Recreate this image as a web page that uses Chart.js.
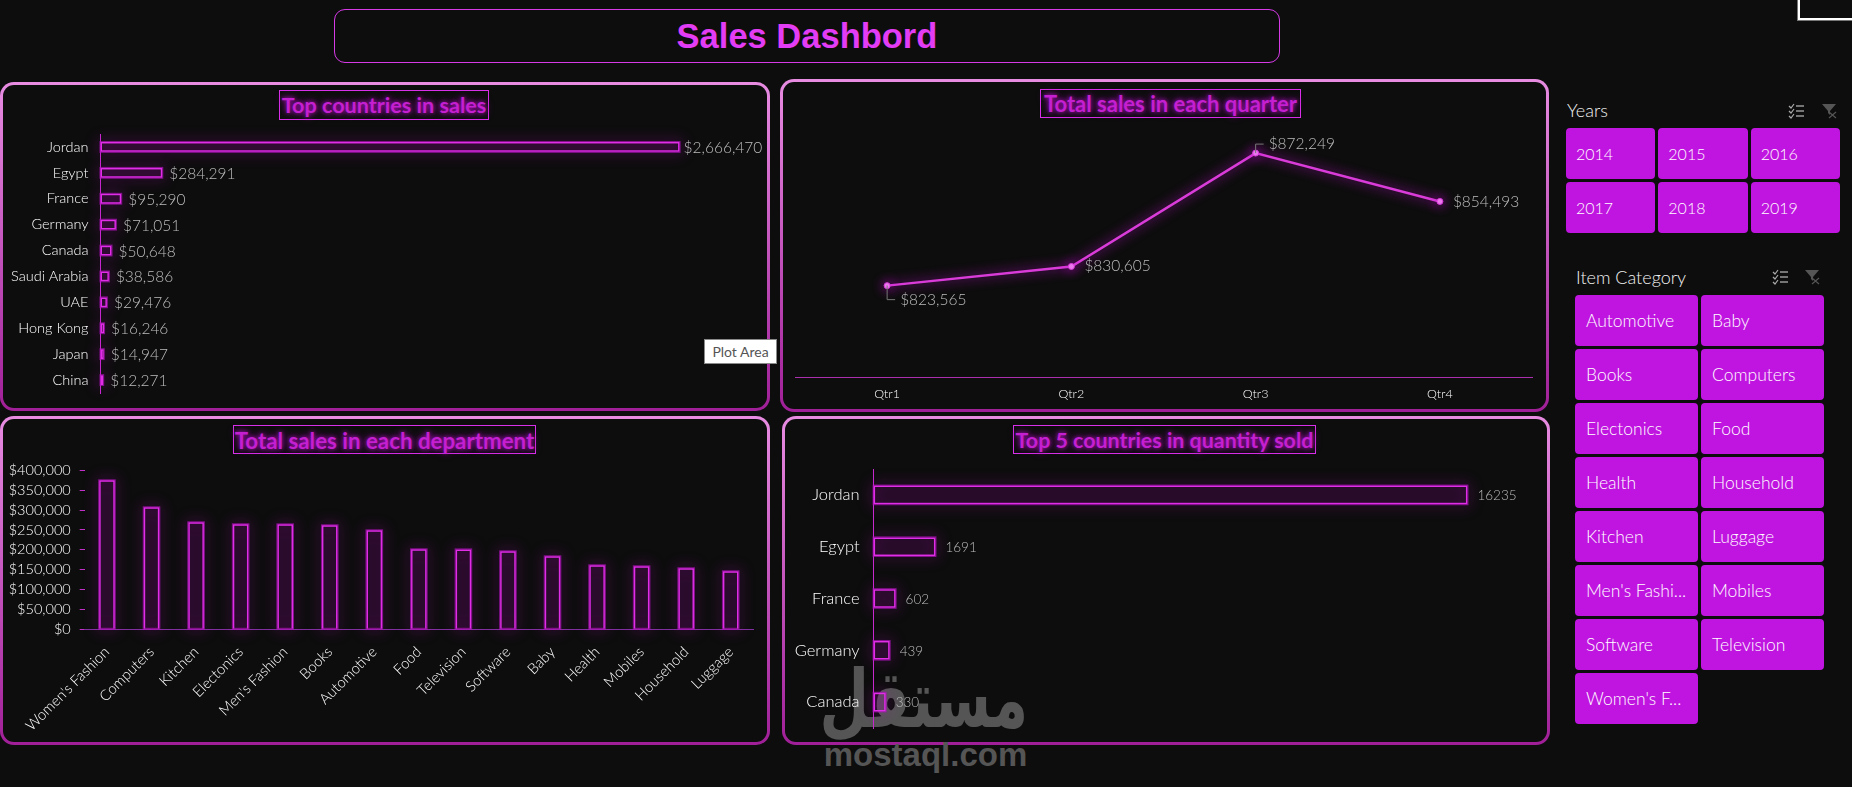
<!DOCTYPE html>
<html>
<head>
<meta charset="utf-8">
<title>Sales Dashbord</title>
<script src="https://cdn.jsdelivr.net/npm/chart.js@4.4.3/dist/chart.umd.min.js"></script>
<style>
    html, body { margin: 0; padding: 0; background: #0d0d0d; overflow: hidden; }
    #page { position: relative; width: 1852px; height: 787px; background: #0d0d0d; font-family: Lato, sans-serif; font-weight: 300; }
    #page > * { position: absolute; box-sizing: border-box; }
    canvas { display: block; z-index: 2; }
    #header { left: 334px; top: 9px; width: 946px; height: 54px; border: 1px solid #d63ae6; border-radius: 11px;
        color: #e23cf4; font: bold 34.5px "Liberation Sans", sans-serif; text-align: center; line-height: 52px; }
    .panel { border: 3px solid transparent; border-radius: 14px;
        background: linear-gradient(#0d0d0d, #0d0d0d) padding-box, linear-gradient(#e88ce2, #a01f98) border-box; }
    .chart-title { border: 1px solid #d930ea; color: #c41fd0; font: 700 22px Lato, sans-serif; text-align: center;
        text-shadow: 0 0 4px #a010b0, 0 0 8px #900aa0; white-space: nowrap; }
    .slicer-label { color: #f2f2f2; font-size: 18px; line-height: 20px; }
    .slicer { display: grid; gap: 3px; grid-auto-rows: 51px; }
    .slicer div { background: #c015e0; border-radius: 4px; color: #fff; line-height: 51px; white-space: nowrap; overflow: hidden; }
    #tip { left: 704px; top: 339px; width: 73px; height: 25px; background: #fff; border: 1px solid #8a8a8a; color: #555;
        font-size: 14px; font-weight: 400; text-align: center; line-height: 23px; z-index: 5; }
    #corner { left: 1798px; top: -3px; width: 60px; height: 23px; border: 2px solid #fff; outline: 1px solid #777; }
    #stamp-ar { left: 823px; top: 654px; width: 205px; color: #555; font: bold 57px "DejaVu Sans", sans-serif; text-align: center; line-height: 90px; z-index: 1; direction: rtl; transform: scaleY(1.4); }
    #stamp-en { left: 810px; top: 739px; width: 231px; color: #555; font: bold 33px "Liberation Sans", sans-serif; text-align: center; line-height: 32px; z-index: 1; }
</style>
</head>
<body>
<div id="page">
    <div id="header">Sales Dashbord</div>

    <div class="panel" style="left:0;top:82px;width:770px;height:329px"></div>
    <div class="panel" style="left:780px;top:79px;width:769px;height:333px"></div>
    <div class="panel" style="left:0;top:416px;width:770px;height:329px"></div>
    <div class="panel" style="left:782px;top:416px;width:768px;height:329px"></div>

    <div class="chart-title" style="left:279px;top:90px;width:210px;height:30px;line-height:29px;font-size:21.6px">Top countries in sales</div>
    <div class="chart-title" style="left:1040px;top:89px;width:261px;height:29px;line-height:28px">Total sales in each quarter</div>
    <div class="chart-title" style="left:233px;top:425px;width:303px;height:29px;line-height:29px;font-size:22.3px">Total sales in each department</div>
    <div class="chart-title" style="left:1013px;top:425px;width:303px;height:29px;line-height:29px;font-size:21.4px">Top 5 countries in quantity sold</div>

    <canvas id="countrySales" width="761" height="285" style="left:4px;top:120px"></canvas>
    <canvas id="quarterSales" width="755" height="280" style="left:785px;top:125px"></canvas>
    <canvas id="departmentSales" width="761" height="285" style="left:4px;top:455px"></canvas>
    <canvas id="countryQuantity" width="755" height="280" style="left:785px;top:460px"></canvas>

    <div class="slicer-label" style="left:1567px;top:100px">Years</div>
    <svg style="left:1788px;top:103px" width="50" height="16" viewBox="0 0 50 16" fill="none">
        <path d="M1 3l2 2 3-4M1 8l2 2 3-4M1 13l2 2 3-4" stroke="#aaa" stroke-width="1.2"/>
        <path d="M8 3h8M8 8h8M8 13h8" stroke="#ddd"/>
        <path d="M34 1h14l-6 7v4l-2-2V8z" fill="#555"/>
        <path d="M41 9l7 6M48 9l-7 6" stroke="#555" stroke-width="1.2"/>
    </svg>
    <div class="slicer" id="yearSlicer" style="left:1566px;top:128px;width:274px;grid-template-columns:repeat(3,1fr);font-size:16px"></div>

    <div class="slicer-label" style="left:1576px;top:267px">Item Category</div>
    <svg style="left:1772px;top:269px" width="50" height="16" viewBox="0 0 50 16" fill="none">
        <path d="M1 3l2 2 3-4M1 8l2 2 3-4M1 13l2 2 3-4" stroke="#aaa" stroke-width="1.2"/>
        <path d="M8 3h8M8 8h8M8 13h8" stroke="#ddd"/>
        <path d="M33 1h14l-6 7v4l-2-2V8z" fill="#555"/>
        <path d="M40 9l7 6M47 9l-7 6" stroke="#555" stroke-width="1.2"/>
    </svg>
    <div class="slicer" id="categorySlicer" style="left:1575px;top:295px;width:249px;grid-template-columns:repeat(2,1fr);font-size:17.5px"></div>

    <div id="tip">Plot Area</div>
    <div id="corner"></div>
    <div id="stamp-ar">مستقل</div>
    <div id="stamp-en">mostaql.com</div>
</div>

<script>
const salesCountries = ['Jordan', 'Egypt', 'France', 'Germany', 'Canada', 'Saudi Arabia', 'UAE', 'Hong Kong', 'Japan', 'China'];
const salesByCountry = [2666470, 284291, 95290, 71051, 50648, 38586, 29476, 16246, 14947, 12271];

const quarters = ['Qtr1', 'Qtr2', 'Qtr3', 'Qtr4'];
const salesByQuarter = [823565, 830605, 872249, 854493];

const departments = ["Women's Fashion", 'Computers', 'Kitchen', 'Electonics', "Men's Fashion", 'Books', 'Automotive', 'Food', 'Television', 'Software', 'Baby', 'Health', 'Mobiles', 'Household', 'Luggage'];
const salesByDepartment = [374800, 306900, 269200, 264200, 264000, 261600, 249000, 201300, 201000, 196200, 183600, 161000, 158500, 153500, 145900];

const quantityCountries = ['Jordan', 'Egypt', 'France', 'Germany', 'Canada'];
const quantityByCountry = [16235, 1691, 602, 439, 330];

const years = ['2014', '2015', '2016', '2017', '2018', '2019'];
const itemCategories = ['Automotive', 'Baby', 'Books', 'Computers', 'Electonics', 'Food', 'Health', 'Household', 'Kitchen', 'Luggage', "Men's Fashi...", 'Mobiles', 'Software', 'Television', "Women's F..."];

const MAGENTA = '#e02ee6';

function fillSlicer(id, items, pad) {
    const box = document.getElementById(id);
    items.forEach(item => {
        const cell = document.createElement('div');
        cell.textContent = item;
        cell.style.paddingLeft = pad + 'px';
        box.appendChild(cell);
    });
}
fillSlicer('yearSlicer', years, 10);
fillSlicer('categorySlicer', itemCategories, 11);

// axes keep the sizes given here, without the extra room Chart.js leaves for end labels
function fixAxis(scale, size) {
    if (scale.isHorizontal()) {
        scale.height = size;
    } else {
        scale.width = size;
    }
    scale.paddingTop = scale.paddingBottom = scale.paddingLeft = scale.paddingRight = 0;
}

// neon halo behind bars; drawn here because the bar element clips its own shadow
const barGlow = {
    id: 'barGlow',
    beforeDatasetDraw(chart, args) {
        const ctx = chart.ctx;
        ctx.save();
        ctx.strokeStyle = 'rgba(180, 20, 190, 0.7)';
        ctx.lineWidth = 2;
        ctx.shadowColor = '#c012d0';
        ctx.shadowBlur = 14;
        args.meta.data.forEach(bar => {
            const p = bar.getProps(['x', 'y', 'base', 'width', 'height'], true);
            if (chart.options.indexAxis === 'y') {
                ctx.strokeRect(p.base, p.y - p.height / 2, p.x - p.base, p.height);
            } else {
                ctx.strokeRect(p.x - p.width / 2, p.y, p.width, p.base - p.y);
            }
        });
        ctx.restore();
    }
};

const lineGlow = {
    id: 'lineGlow',
    beforeDatasetDraw(chart) {
        chart.ctx.save();
        chart.ctx.shadowColor = '#c010d0';
        chart.ctx.shadowBlur = 12;
    },
    afterDatasetDraw(chart) {
        chart.ctx.restore();
    }
};

// value labels placed next to each mark, offsets come from options.plugins.valueLabels
const valueLabels = {
    id: 'valueLabels',
    afterDatasetsDraw(chart, args, opts) {
        const ctx = chart.ctx;
        const values = chart.data.datasets[0].data;
        ctx.save();
        ctx.font = opts.font;
        ctx.fillStyle = '#bdbdbd';
        ctx.textBaseline = 'middle';
        chart.getDatasetMeta(0).data.forEach((el, i) => {
            const off = opts.offsets && opts.offsets[i] ? opts.offsets[i] : [opts.dx, opts.dy];
            if (opts.leaders && opts.leaders[i]) {
                ctx.strokeStyle = '#777';
                ctx.lineWidth = 1;
                ctx.beginPath();
                ctx.moveTo(el.x, el.y);
                ctx.lineTo(el.x, el.y + off[1]);
                ctx.lineTo(el.x + off[0] - 5, el.y + off[1]);
                ctx.stroke();
            }
            ctx.fillText(opts.format(values[i]), el.x + off[0], el.y + off[1]);
        });
        ctx.restore();
    }
};

const dollars = v => '$' + v.toLocaleString('en-US');

function horizontalBars(id, labels, values, max, opts) {
    return new Chart(document.getElementById(id), {
        type: 'bar',
        data: {
            labels: labels,
            datasets: [{
                data: values,
                backgroundColor: 'rgba(120, 10, 130, 0.15)',
                borderColor: MAGENTA,
                borderWidth: 1.5,
                borderSkipped: false,
                barPercentage: 1,
                categoryPercentage: opts.thickness
            }]
        },
        options: {
            indexAxis: 'y',
            responsive: false,
            animation: false,
            layout: { padding: opts.padding },
            plugins: {
                legend: { display: false },
                tooltip: { enabled: false },
                valueLabels: { font: opts.labelFont, dx: opts.labelGap, dy: 1, format: opts.format, offsets: opts.labelOffsets }
            },
            scales: {
                x: { display: false, min: 0, max: max },
                y: {
                    afterFit: s => fixAxis(s, opts.axisWidth),
                    grid: { display: false, drawTicks: false },
                    border: { display: true, color: '#c828d0', width: 1 },
                    ticks: { color: '#ffffff', font: { family: 'Lato', weight: 300, size: opts.tickSize }, padding: opts.tickPad }
                }
            }
        },
        plugins: [barGlow, valueLabels]
    });
}

horizontalBars('countrySales', salesCountries, salesByCountry, 3000000, {
    axisWidth: 96.5,
    padding: { top: 14, bottom: 12, right: 13, left: 0 },
    thickness: 0.38,
    labelFont: '300 15.5px Lato',
    labelGap: 7,
    labelOffsets: [[4, 1]],
    format: dollars,
    tickSize: 14.5,
    tickPad: 12
});

horizontalBars('countryQuantity', quantityCountries, quantityByCountry, 18000, {
    axisWidth: 88.6,
    padding: { top: 9, bottom: 12, right: 8, left: 0 },
    thickness: 0.36,
    labelFont: '300 13.5px Lato',
    labelGap: 10,
    format: v => String(v),
    tickSize: 16.5,
    tickPad: 14
});

new Chart(document.getElementById('quarterSales'), {
    type: 'line',
    data: {
        labels: quarters,
        datasets: [{
            data: salesByQuarter,
            borderColor: '#d93cd8',
            borderWidth: 2.5,
            tension: 0,
            pointRadius: 3,
            pointBackgroundColor: '#ee80ee',
            pointBorderColor: '#d836dc',
            pointBorderWidth: 1
        }]
    },
    options: {
        responsive: false,
        animation: false,
        layout: { padding: { top: 7, bottom: 0, left: 10, right: 8 } },
        plugins: {
            legend: { display: false },
            tooltip: { enabled: false },
            valueLabels: {
                font: '300 15.5px Lato',
                format: dollars,
                offsets: [[13, 14], [13, 0], [13, -9], [13, 1]],
                leaders: [true, false, true, false]
            }
        },
        scales: {
            y: { display: false, min: 790000, max: 880000 },
            x: {
                offset: true,
                afterFit: s => fixAxis(s, 28),
                grid: { display: false, drawTicks: false },
                border: { display: true, color: '#a92fae', width: 1 },
                ticks: { color: '#ffffff', font: { family: 'Lato', weight: 300, size: 12.5 }, padding: 9 }
            }
        }
    },
    plugins: [lineGlow, valueLabels]
});

new Chart(document.getElementById('departmentSales'), {
    type: 'bar',
    data: {
        labels: departments,
        datasets: [{
            data: salesByDepartment,
            backgroundColor: 'rgba(120, 10, 130, 0.15)',
            borderColor: MAGENTA,
            borderWidth: 1.5,
            borderSkipped: 'bottom',
            barPercentage: 1,
            categoryPercentage: 0.35
        }]
    },
    options: {
        responsive: false,
        animation: false,
        layout: { padding: { top: 15.3, bottom: 0, right: 12, left: 0 } },
        plugins: { legend: { display: false }, tooltip: { enabled: false } },
        scales: {
            x: {
                afterFit: s => fixAxis(s, 110.7),
                grid: { display: false, drawTicks: false },
                border: { display: true, color: '#8030a0', width: 1 },
                ticks: {
                    color: '#ffffff',
                    font: { family: 'Lato', weight: 300, size: 14.7 },
                    minRotation: 45,
                    maxRotation: 45,
                    padding: 14,
                    autoSkip: false
                }
            },
            y: {
                min: 0,
                max: 400000,
                afterFit: s => fixAxis(s, 80.7),
                grid: { drawOnChartArea: false, drawTicks: true, tickLength: 5, color: '#c030c8' },
                border: { display: false },
                ticks: {
                    stepSize: 50000,
                    autoSkip: false,
                    color: '#ffffff',
                    font: { family: 'Lato', weight: 300, size: 14.5 },
                    padding: 9,
                    callback: dollars
                }
            }
        }
    },
    plugins: [barGlow]
});
</script>
</body>
</html>
